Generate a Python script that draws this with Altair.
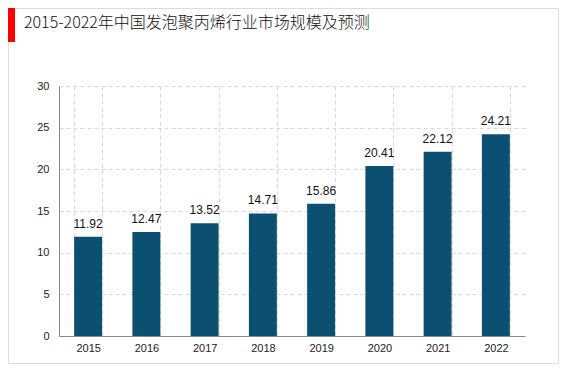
import altair as alt
import pandas as pd

years = ["2015", "2016", "2017", "2018", "2019", "2020", "2021", "2022"]
values = [11.92, 12.47, 13.52, 14.71, 15.86, 20.41, 22.12, 24.21]
y_ticks = [0, 5, 10, 15, 20, 25, 30]
title_text = "2015-2022年中国发泡聚丙烯行业市场规模及预测"

df = pd.DataFrame({"year": years, "value": values})

W, H = 466, 250
PL, PT, PR, PB = 51, 78, 34, 28

xscale = alt.Scale(paddingInner=0.52, paddingOuter=0.26)
yscale = alt.Scale(domain=[0, 30])

base = alt.Chart(df)

bars = base.mark_bar(color="#0b5070").encode(
    x=alt.X("year:N", scale=xscale, sort=years,
            axis=alt.Axis(title=None, labelAngle=0, grid=True, tickBand="extent",
                          gridDash=[4, 3], gridColor="#d9d9d9", ticks=False,
                          domainColor="#888888", labelColor="#222222",
                          labelFontSize=11, labelPadding=6, labelFont="Liberation Sans")),
    y=alt.Y("value:Q", scale=yscale,
            axis=alt.Axis(title=None, values=y_ticks, grid=True, gridDash=[4, 3],
                          gridColor="#d9d9d9", ticks=False, domainColor="#888888",
                          labelColor="#222222", labelFontSize=11, labelPadding=10,
                          labelFont="Liberation Sans")),
)

labels = base.mark_text(dy=-13, fontSize=12, color="#111111", font="Liberation Sans").encode(
    x=alt.X("year:N", scale=xscale, sort=years),
    y=alt.Y("value:Q", scale=yscale),
    text=alt.Text("value:Q", format=".2f"),
)

frame = alt.Chart(pd.DataFrame({"a": [0]})).mark_rect(
    fill=None, stroke="#dcdcdc", strokeWidth=1
).encode(
    x=alt.value(-PL + 0.5), x2=alt.value(W + PR - 0.5),
    y=alt.value(-PT + 0.5), y2=alt.value(H + PB - 0.5),
)

redbar = alt.Chart(pd.DataFrame({"a": [0]})).mark_rect(color="#ff0000").encode(
    x=alt.value(-PL), x2=alt.value(-PL + 7),
    y=alt.value(-PT), y2=alt.value(-PT + 34),
)

title = alt.Chart(pd.DataFrame({"t": [title_text]})).mark_text(
    align="left", baseline="middle", fontSize=16, color="#111111",
    font="Noto Sans CJK SC", fontWeight=300
).encode(
    x=alt.value(-PL + 16), y=alt.value(-PT + 15), text="t:N"
)

chart = alt.layer(frame, redbar, title, bars, labels).properties(
    width=W, height=H,
    autosize=alt.AutoSizeParams(type="none"),
    padding={"left": PL, "top": PT, "right": PR, "bottom": PB},
).configure_view(stroke=None)

chart.save("out.html", embed_options={"renderer": "svg", "actions": False})
